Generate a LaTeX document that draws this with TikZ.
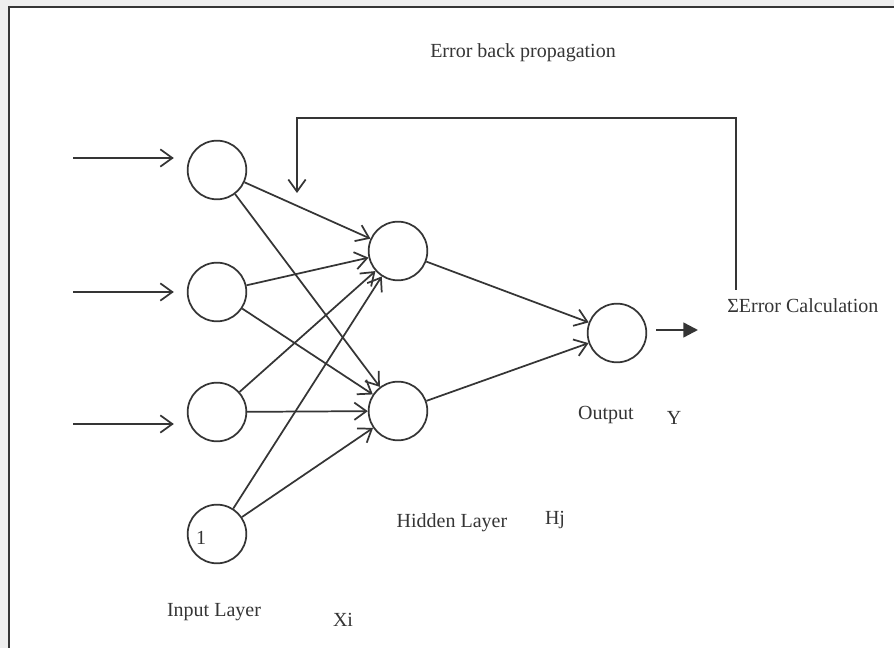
\documentclass[tikz,border=0pt]{standalone}
\usepackage{fontspec}
\setmainfont{Liberation Serif}
\usetikzlibrary{arrows.meta}
\definecolor{ink}{HTML}{353535}
\definecolor{band}{HTML}{EEEEEE}
\begin{document}
\begin{tikzpicture}[x=0.75pt,y=-0.75pt,
  neuron/.style={circle,draw=ink,line width=1.3pt,minimum size=44pt,inner sep=0pt},
  wire/.style={draw=ink,line width=1.3pt,-{Straight Barb[length=9pt,width=13pt,line width=1.3pt]}},
  lbl/.style={text=ink,font=\fontsize{15}{18}\selectfont,inner sep=0pt}]
\useasboundingbox (0,0) rectangle (894,648);
\fill[band] (0,0) rectangle (894,648);
\fill[white] (9,7) rectangle (894,648);
\draw[ink,line width=1.6pt] (9,648) -- (9,7) -- (894,7);

% nodes
\node[neuron] (i1) at (217,170) {};
\node[neuron] (i2) at (217,292) {};
\node[neuron] (i3) at (217,412) {};
\node[neuron,label={[lbl,xshift=-12pt,yshift=-3pt]center:1}] (i4) at (217,534) {};
\node[neuron] (h1) at (398,251) {};
\node[neuron] (h2) at (398,411) {};
\node[neuron] (o) at (617,333) {};

% input arrows
\coordinate (a1) at (73,158);
\coordinate (a2) at (73,292);
\coordinate (a3) at (73,424);
\foreach \a/\n in {a1/i1,a2/i2,a3/i3}
  \draw[wire,shorten >=9.75pt] (\a) -- (\a -| \n.west);

% input -> hidden
\foreach \i in {i1,i2,i3,i4}
  \foreach \h in {h1,h2}
    \draw[wire] (\i) -- (\h);

% hidden -> output
\draw[wire] (h1) -- (o);
\draw[wire] (h2) -- (o);

% output arrow
\coordinate (os) at (656,330);
\coordinate (oe) at (698,330);
\draw[ink,line width=1.8pt,-{Triangle[length=11pt,width=11pt]}] (os) -- (oe);

% feedback line
\node[lbl,anchor=west] (err) at (727,306) {ΣError Calculation};
\coordinate (fs) at (736,290);
\coordinate (fc) at (736,118);
\coordinate (fe) at (297,193);
\draw[wire] (fs) -- (fc) -| (fe);

% labels
\node[lbl] (ebp) at (523,53) {Error back propagation};
\node[lbl] (outl) at (606,415) {Output};
\node[lbl] (yl) at (674,418) {Y};
\node[lbl] (hl) at (452,523) {Hidden Layer};
\node[lbl] (hj) at (555,520) {Hj};
\node[lbl] (il) at (214,612) {Input Layer};
\node[lbl] (xi) at (343,620) {Xi};
\end{tikzpicture}
\end{document}
